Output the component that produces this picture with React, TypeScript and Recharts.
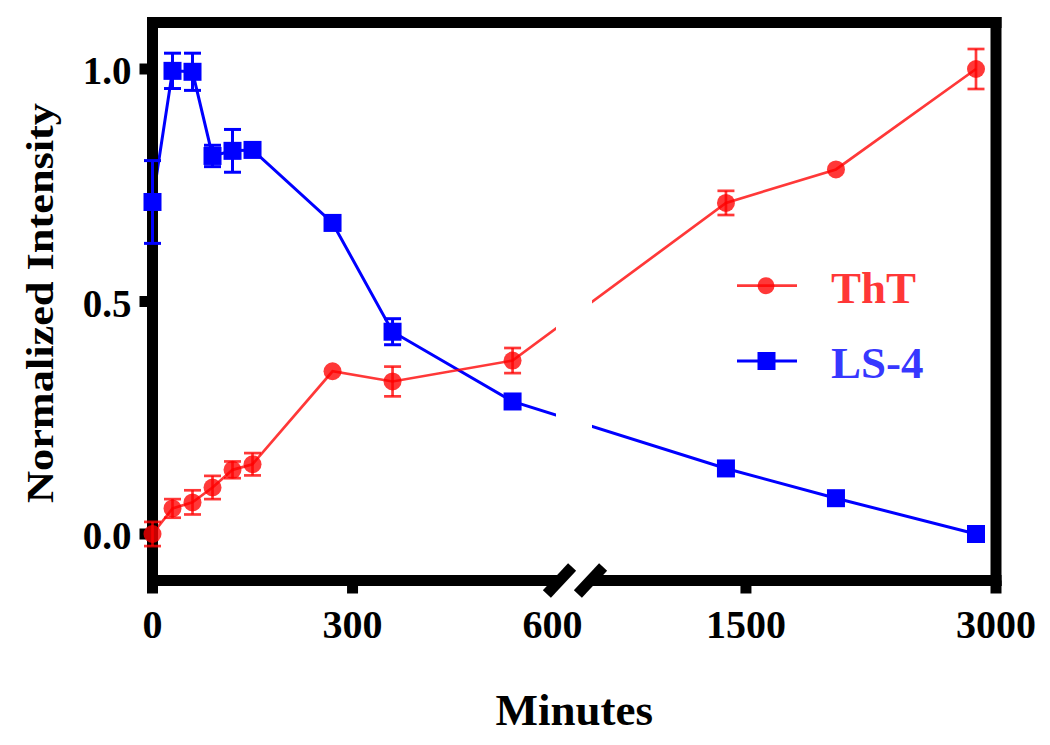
import React from 'react';
import { ComposedChart, Line, XAxis, YAxis, ErrorBar, ReferenceLine, Legend, Label } from 'recharts';

// ---- data (minutes, normalized intensity, +/- error) ----
const minutes = [0, 30, 60, 90, 120, 150, 270, 360, 540, 1380, 2040, 2880];
const thtValues = [0.0, 0.055, 0.068, 0.1, 0.138, 0.15, 0.35, 0.328, 0.373, 0.712, 0.784, 1.0];
const thtErrors = [0.026, 0.02, 0.026, 0.025, 0.018, 0.024, null, 0.032, 0.027, 0.026, null, 0.043];
const ls4Values = [0.714, 0.996, 0.994, 0.813, 0.824, 0.826, 0.669, 0.435, 0.285, 0.141, 0.077, 0.0];
const ls4Errors = [0.089, 0.038, 0.04, 0.023, 0.046, null, null, 0.028, null, null, null, null];

const xTickMinutes = [0, 300, 600, 1500, 3000];
const xTickLabels = ['0', '300', '600', '1500', '3000'];
const xTickHasMark = [true, true, false, true, true];
const yTicks = [0, 0.5, 1.0];
const seriesNames = ['ThT', 'LS-4'];
const xTitle = 'Minutes';
const yTitle = 'Normalized Intensity';

// ---- broken x axis: 0-600 linear, gap, 600-3000 compressed ----
const BREAK_AT = 600;
const BREAK_GAP = 65;
const RIGHT_FACTOR = 4;
const X_END = 3000;
const toAxisX = (t: number) => (t <= BREAK_AT ? t : BREAK_AT + BREAK_GAP + (t - BREAK_AT) / RIGHT_FACTOR);
const X_MAX = toAxisX(X_END);

const RED = '#ff0000';
const BLUE = '#0000ff';
const FONT = "'Liberation Serif', 'Times New Roman', Times, serif";

const thtData = minutes.map((t, i) => ({ t, x: toAxisX(t), v: thtValues[i], err: thtErrors[i] }));
const ls4Data = minutes.map((t, i) => ({ t, x: toAxisX(t), v: ls4Values[i], err: ls4Errors[i] }));
const xTicks = xTickMinutes.map(toAxisX);

const renderSquare = (props: any) => {
  const { cx, cy, index } = props;
  if (cx == null || cy == null) return <g key={`sq-${index}`} />;
  return <rect key={`sq-${index}`} x={cx - 9} y={cy - 9} width={18} height={18} fill={BLUE} />;
};

const renderCircle = (props: any) => {
  const { cx, cy, index } = props;
  if (cx == null || cy == null) return <g key={`ci-${index}`} />;
  return <circle key={`ci-${index}`} cx={cx} cy={cy} r={9} fill={RED} fillOpacity={0.78} />;
};

const renderXTick = (props: any) => {
  const { x, y, payload } = props;
  const idx = xTicks.findIndex((v) => Math.abs(v - payload.value) < 1e-6);
  if (idx < 0) return <g />;
  return (
    <g>
      {xTickHasMark[idx] && <line x1={x} x2={x} y1={y - 13} y2={y} stroke="#000" strokeWidth={11} />}
      <text x={x} y={y + 44} textAnchor="middle" fontFamily={FONT} fontWeight="bold" fontSize={40} fill="#000">
        {xTickLabels[idx]}
      </text>
    </g>
  );
};

const renderYTick = (props: any) => {
  const { x, y, payload } = props;
  return (
    <text x={x} y={y + 15} textAnchor="end" fontFamily={FONT} fontWeight="bold" fontSize={39} fill="#000">
      {Number(payload.value).toFixed(1)}
    </text>
  );
};

const renderXTitle = (props: any) => {
  const vb = props.viewBox || { x: 152.5, y: 580.5, width: 843.5 };
  return (
    <text x={vb.x + vb.width / 2} y={725} textAnchor="middle" fontFamily={FONT} fontWeight="bold" fontSize={45} fill="#000">
      {xTitle}
    </text>
  );
};

const renderYTitle = (props: any) => {
  const vb = props.viewBox || { x: 0, y: 22.5, width: 152.5, height: 558 };
  const cx = 53;
  const cy = vb.y + vb.height / 2 + 1.5;
  return (
    <text
      x={cx}
      y={cy}
      transform={`rotate(-90, ${cx}, ${cy})`}
      textAnchor="middle"
      fontFamily={FONT}
      fontWeight="bold"
      fontSize={37}
      textLength={400}
      lengthAdjust="spacingAndGlyphs"
      fill="#000"
    >
      {yTitle}
    </text>
  );
};

const renderLegend = () => (
  <svg width={240} height={150} style={{ display: 'block' }}>
    <line x1={17} x2={77} y1={35.7} y2={35.7} stroke={RED} strokeOpacity={0.78} strokeWidth={2.7} />
    <circle cx={46} cy={35.7} r={8.5} fill={RED} fillOpacity={0.78} />
    <text x={111} y={52.5} fontFamily={FONT} fontWeight="bold" fontSize={45} fill={RED} fillOpacity={0.78}>
      {seriesNames[0]}
    </text>
    <line x1={17} x2={77} y1={111} y2={111} stroke={BLUE} strokeWidth={3} />
    <rect x={37.5} y={102} width={18} height={18} fill={BLUE} />
    <text x={111} y={128} fontFamily={FONT} fontWeight="bold" fontSize={45} fill={BLUE} fillOpacity={0.8}>
      {seriesNames[1]}
    </text>
  </svg>
);

const frameLine = { stroke: '#000', strokeWidth: 11, strokeLinecap: 'square' as const };
const errProps: any = { zIndex: 700 };

export default function App() {
  return (
    <div style={{ position: 'absolute', left: 0, top: 0, width: 1050, height: 745, background: '#fff' }}>
      <ComposedChart width={1050} height={745} margin={{ top: 22.5, right: 54, left: 0, bottom: 104.5 }}>
        <XAxis
          type="number"
          dataKey="x"
          domain={[0, X_MAX]}
          ticks={xTicks}
          interval={0}
          axisLine={false}
          tickLine={false}
          tickSize={13}
          tickMargin={0}
          tick={renderXTick}
          height={60}
        >
          <Label content={renderXTitle} />
        </XAxis>
        <YAxis
          type="number"
          domain={[-0.1, 1.1]}
          ticks={yTicks}
          interval={0}
          width={152.5}
          axisLine={frameLine}
          tickLine={{ stroke: '#000', strokeWidth: 11 }}
          tickSize={13}
          tickMargin={8}
          tick={renderYTick}
        >
          <Label content={renderYTitle} />
        </YAxis>
        <ReferenceLine y={1.1} {...frameLine} />
        <ReferenceLine x={X_MAX} {...frameLine} />
        <ReferenceLine segment={[{ x: 0, y: -0.1 }, { x: BREAK_AT, y: -0.1 }]} {...frameLine} />
        <ReferenceLine segment={[{ x: BREAK_AT + BREAK_GAP, y: -0.1 }, { x: X_MAX, y: -0.1 }]} {...frameLine} />
        <Line
          data={ls4Data}
          dataKey="v"
          name={seriesNames[1]}
          type="linear"
          stroke={BLUE}
          strokeWidth={3}
          dot={renderSquare}
          activeDot={false}
          isAnimationActive={false}
        >
          <ErrorBar dataKey="err" direction="y" width={8.5} stroke={BLUE} strokeWidth={3} {...errProps} />
        </Line>
        <Line
          data={thtData}
          dataKey="v"
          name={seriesNames[0]}
          type="linear"
          stroke={RED}
          strokeOpacity={0.78}
          strokeWidth={2.7}
          dot={renderCircle}
          activeDot={false}
          isAnimationActive={false}
        >
          <ErrorBar dataKey="err" direction="y" width={8.5} stroke={RED} strokeOpacity={0.78} strokeWidth={2.7} {...errProps} />
        </Line>
        <Legend
          content={renderLegend}
          layout="horizontal"
          verticalAlign="middle"
          align="center"
          width={240}
          height={150}
          wrapperStyle={{ left: 720, top: 250, width: 240, height: 150 }}
        />
      </ComposedChart>
      {/* axis break: blank the plot area in the gap, then draw the two break marks */}
      <div style={{ position: 'absolute', left: 556, top: 28, width: 36, height: 546, background: '#fff' }} />
      <div
        style={{ position: 'absolute', left: 559.2 - 5.5, top: 580 - 18.5, width: 11, height: 37, background: '#000', transform: 'rotate(43deg)' }}
      />
      <div
        style={{ position: 'absolute', left: 590.5 - 5.5, top: 580 - 18.5, width: 11, height: 37, background: '#000', transform: 'rotate(43deg)' }}
      />
    </div>
  );
}
